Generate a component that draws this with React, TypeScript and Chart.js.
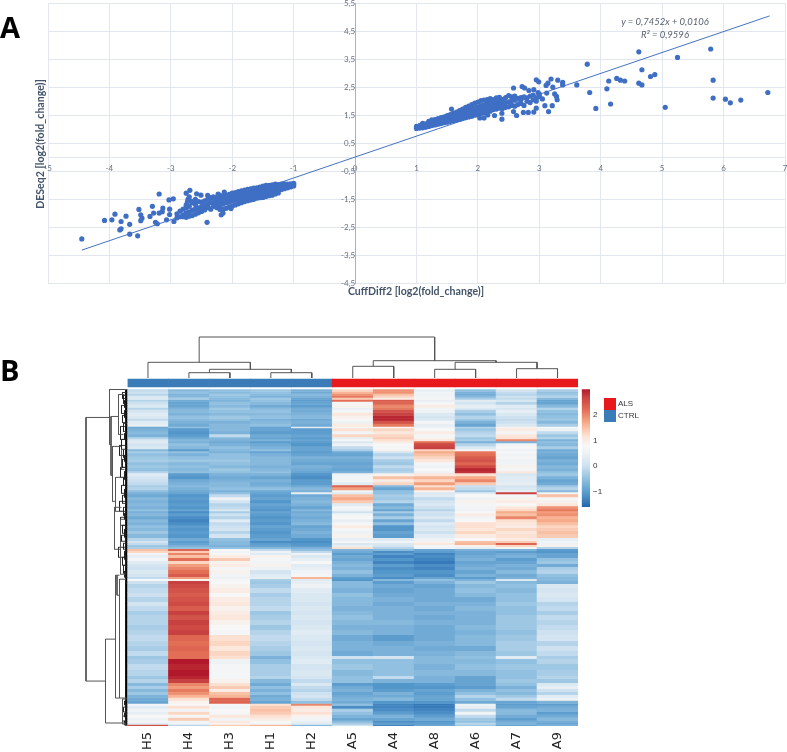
import React, { useEffect, useRef } from "react";
import { Chart, registerables } from "chart.js";

Chart.register(...registerables);

// ---------- Panel A ----------
const xTicksA = [-5, -4, -3, -2, -1, 0, 1, 2, 3, 4, 5, 6, 7];
const yTicksA = [-4.5, -3.5, -2.5, -1.5, -0.5, 0.5, 1.5, 2.5, 3.5, 4.5, 5.5];
const trendX = [-4.45, 6.75];
const trendY = [-3.31, 5.04];

const upOutliers = [
  [4.62,3.76],[5.79,3.86],[5.25,3.56],[3.78,3.32],[4.67,3.12],[4.88,2.95],[4.81,2.88],[5.83,2.75],[4.26,2.81],[4.32,2.75],[4.39,2.72],[4.13,2.72],[4.62,2.64],[4.67,2.58],[4.10,2.44],[3.82,2.31],[6.72,2.31],[5.83,2.11],[6.03,2.07],[6.28,2.04],[6.11,1.94],[4.16,1.90],[3.92,1.74],[5.05,1.78],[3.61,2.58],
  [2.95,2.76],[2.99,2.69],[3.19,2.79],[3.30,2.75],[3.38,2.67],[3.38,2.58],[3.14,2.64],[3.11,2.56],[3.22,2.50],[2.58,2.47],[2.72,2.52],[2.76,2.47],[2.83,2.38],[2.91,2.41],[2.98,2.31],[3.12,2.29],[3.25,2.26],[3.28,2.17],[3.29,2.05],[3.21,1.84],[3.09,1.84],[3.15,1.63],[2.95,1.75],[2.91,1.61],[2.82,1.60],[2.74,1.60],[2.63,1.49],[2.58,1.63],[2.39,1.36],[2.39,1.57],[2.27,1.49],[2.16,1.51],[2.03,1.40],[2.10,1.40],[1.57,1.72],
];
// dense band: one [x, [y values at that x]] per column of the cloud
const upBand: [number, number[]][] = [
  [1.00,[1.03,1.07,1.10]],[1.05,[1.04,1.08,1.13]],[1.10,[1.05,1.10,1.17,1.21]],[1.15,[1.07,1.13,1.19]],[1.20,[1.10,1.16,1.23,1.28]],[1.25,[1.13,1.19,1.26,1.33]],[1.30,[1.15,1.22,1.29,1.34]],[1.35,[1.18,1.25,1.33,1.38]],[1.40,[1.20,1.27,1.36,1.41]],[1.45,[1.23,1.30,1.38,1.44]],[1.50,[1.25,1.33,1.41,1.49]],[1.55,[1.28,1.37,1.45,1.52]],[1.60,[1.30,1.39,1.48,1.57]],[1.65,[1.33,1.43,1.52,1.61]],[1.70,[1.35,1.46,1.56,1.66]],[1.75,[1.38,1.49,1.60,1.72]],[1.80,[1.41,1.53,1.64,1.78]],[1.85,[1.44,1.56,1.68,1.82]],[1.90,[1.46,1.59,1.72,1.88]],[1.95,[1.50,1.62,1.76,1.93]],[2.00,[1.52,1.66,1.80,1.97]],[2.05,[1.56,1.69,1.84,2.02]],[2.10,[1.58,1.73,1.87,2.04]],[2.15,[1.62,1.76,1.91,2.06]],[2.20,[1.64,1.79,1.94,2.09]],[2.25,[1.70,1.82,1.98,2.06]],[2.30,[1.72,1.85,2.00,2.12]],[2.35,[1.75,1.88,2.03,2.14]],[2.40,[1.74,1.91,2.06]],[2.45,[1.78,1.95,2.13]],[2.50,[1.80,1.98,2.20]],[2.55,[1.85,2.02,2.15]],[2.60,[1.82,2.05,2.18]],[2.65,[1.88,2.10]],[2.70,[1.92,2.06,2.13]],[2.75,[1.85,2.15]],[2.80,[2.00,2.12]],[2.85,[1.95,2.18]],[2.90,[2.05,2.22]],[2.95,[2.00,2.10]],[3.00,[2.16,2.25]],[3.05,[2.08]],
];
const downOutliers = [
  [-4.45,-2.91],[-4.08,-2.25],[-3.96,-2.23],[-3.91,-2.03],[-3.81,-2.29],[-3.73,-2.10],[-3.81,-2.55],[-3.83,-2.59],[-3.67,-2.39],[-3.67,-2.74],[-3.54,-2.80],[-3.52,-1.86],[-3.49,-2.05],[-3.47,-2.17],[-3.49,-2.26],[-3.30,-1.75],[-3.34,-2.11],[-3.28,-1.99],[-3.25,-2.32],[-3.22,-2.37],[-3.19,-1.31],[-3.19,-1.99],[-3.13,-1.81],[-3.14,-1.94],[-3.02,-1.85],[-3.07,-2.23],[-3.03,-1.52],[-2.96,-1.48],[-2.95,-2.29],[-3.02,-2.04],
  [-2.75,-1.28],[-2.69,-1.18],[-2.58,-1.30],[-2.51,-1.35],[-2.70,-1.41],[-2.73,-1.59],[-2.67,-1.56],[-2.41,-2.32],[-2.40,-1.36],[-2.31,-1.41],[-2.23,-1.31],[-2.13,-1.24],[-2.02,-1.31],[-2.18,-2.05],[-2.15,-1.99],[-2.02,-1.83],[-2.72,-1.50],[-2.64,-1.62],[-2.60,-1.50],[-2.75,-1.70],
];
const downBand: [number, number[]][] = [
  [-1.00,[-.93,-.98,-1.02]],[-1.05,[-.95,-1.00,-1.06]],[-1.10,[-.96,-1.02,-1.09]],[-1.15,[-.95,-1.03,-1.12]],[-1.20,[-.96,-1.05,-1.15]],[-1.25,[-.97,-1.07,-1.18,-1.27]],[-1.30,[-.96,-1.08,-1.21,-1.31]],[-1.35,[-.98,-1.10,-1.23,-1.35]],[-1.40,[-1.00,-1.12,-1.25,-1.37]],[-1.45,[-1.00,-1.14,-1.28,-1.40]],[-1.50,[-1.03,-1.16,-1.30,-1.43]],[-1.55,[-1.06,-1.18,-1.32,-1.44]],[-1.60,[-1.09,-1.21,-1.34,-1.46]],[-1.65,[-1.10,-1.23,-1.36,-1.50]],[-1.70,[-1.13,-1.26,-1.39,-1.52]],[-1.75,[-1.14,-1.28,-1.42,-1.55]],[-1.80,[-1.17,-1.30,-1.45,-1.58]],[-1.85,[-1.20,-1.33,-1.47,-1.62]],[-1.90,[-1.22,-1.36,-1.50,-1.66]],[-1.95,[-1.26,-1.39,-1.53,-1.70]],[-2.00,[-1.28,-1.42,-1.56,-1.74]],[-2.05,[-1.32,-1.46,-1.60,-1.78]],[-2.10,[-1.35,-1.49,-1.63,-1.82]],[-2.15,[-1.38,-1.52,-1.66,-1.84]],[-2.20,[-1.36,-1.54,-1.69,-1.86]],[-2.25,[-1.42,-1.57,-1.72,-1.80]],[-2.30,[-1.45,-1.60,-1.75]],[-2.35,[-1.44,-1.62,-1.85]],[-2.40,[-1.50,-1.68,-1.80]],[-2.45,[-1.55,-1.72,-1.88]],[-2.50,[-1.60,-1.76,-1.93]],[-2.55,[-1.58,-1.80,-1.98]],[-2.60,[-1.68,-1.84,-2.03]],[-2.65,[-1.62,-1.88,-2.08]],[-2.70,[-1.75,-1.95,-2.10]],[-2.75,[-1.80,-1.98,-2.14]],[-2.80,[-1.85,-2.05,-2.12]],[-2.85,[-1.92,-2.12]],[-2.90,[-2.02,-2.16]],
];

// ---------- Panel B ----------
const samples = ["H5", "H4", "H3", "H1", "H2", "A5", "A4", "A8", "A6", "A7", "A9"];
const sampleGroups = ["CTRL", "CTRL", "CTRL", "CTRL", "CTRL", "ALS", "ALS", "ALS", "ALS", "ALS", "ALS"];
const groupColors: Record<string, string> = { ALS: "#e8191c", CTRL: "#3a7bb8" };
const colorbarTicks = [-1, 0, 1, 2];

// leaves 0..10 are samples; every merge creates the next node number, starting at 11
const columnMerges = [
  [1, 2, 5.3], [3, 4, 5.3], [11, 12, 8.7], [0, 13, 15.7],
  [5, 6, 11.7], [7, 8, 8.7], [9, 10, 9.3], [16, 17, 15.7], [15, 18, 17.3], [14, 19, 41],
];

const rowSpans = [
  2,2,2,2,2,2,3,3,2,3,3,3,2,3,3,1.5,3,3,3,2,2,2,3,3,2,2,3,3,3,3,3,3,2,3,3,3,3,2,3,2,2,3,3,3,3,3,2,2,3,3,3,3,3,3,3,4,3,2,2,2,2,2,2,2,3,3,3,3,3,4,3,2,2,3,4,5,4,5,4,5,4,5,5,5,5,6,5,5,5,3,5,6,6,3,4,3,3,3,3,3,3,3,2,3,3,3,3,3,2,2,1.5,
];
const heatRows = [
  [-.1,-.6,-.5,-.4,-.7,1.3,1.9,.4,-.5,.1,-.3],
  [0,-.5,-.6,-.5,-.8,1.6,1.9,.6,-.7,-.1,-.5],
  [-.2,-.7,-.4,-.6,-.6,1.9,1.5,.5,-.8,-.2,-.4],
  [.2,-.6,-.5,-.7,-.7,2.1,1.3,.6,-.6,0,-.2],
  [.3,-.3,-.6,-.4,-.9,1.4,1,.7,-.3,-.1,-.6],
  [-.2,-.8,-.7,-.5,-1,2.2,2.4,.4,.3,.2,-.9],
  [0,-.9,-.5,-.6,-.9,.7,2.3,.7,.1,-.2,-.9],
  [.2,-.9,-.6,-.8,-1,.9,2,1,.4,.3,-.6],
  [-.2,-.7,-.4,-.6,-.8,.4,2.1,.6,.2,.1,-.2],
  [.1,-.6,-.5,-.5,-.8,.7,2.5,.5,-.3,.4,-.5],
  [.3,-.7,-.6,-.6,-.7,1.1,2.7,.2,-.5,.2,-.6],
  [.2,-.5,-.4,-.5,-.6,.9,2.9,.1,-.2,0,-.5],
  [-.1,-.6,-.5,-.7,-.8,.8,2.9,.2,-.4,-.1,-.4],
  [.3,-.7,-.7,-.6,-.7,.5,2.5,.7,-.7,0,-.6],
  [.4,-.8,-.6,-.5,-.8,1,2.1,.4,-.9,.2,-.3],
  [-.8,-.5,-.6,-.9,.3,.7,.8,.5,-.2,.9,.7],
  [-.7,-1,-.6,-.9,-1,1.2,1.3,.8,-.4,1,.5],
  [-.6,-1.1,-.7,-1,-1,.6,1.1,1,-.2,.7,-.1],
  [-.7,-1,-.1,-.8,-.9,1.3,1.3,.7,-.1,1.1,-.4],
  [-.2,-.8,-.6,-.9,-1,.4,1.4,.9,-.4,1.2,-.2],
  [.2,-.6,-.7,-.7,-.9,.7,1.2,1.1,-.3,2,-.7],
  [.3,-.7,-.8,-1,-1,.2,1,2.2,-.7,-.7,-.5],
  [.1,-.5,-.7,-.8,-1.1,.5,.8,2.6,-.2,.6,-.6],
  [.2,-.6,-.5,-.7,-.9,-.1,.7,2.7,.2,.8,-.3],
  [-.6,-1,-.6,-.5,-.9,-.3,.9,1.3,.7,.5,-.8],
  [-.3,-.5,-.7,-.9,-1,-.8,.1,1.7,2.1,.8,-.7],
  [-.5,-.7,-.5,-.7,-.9,-.9,-.2,1.5,2.2,.6,-.8],
  [-.4,-.5,-.5,-.6,-.7,-.7,0,1.3,2.4,.7,-.9],
  [-.3,-.4,-.4,-.6,-.8,-.8,-.3,1.1,2.5,.5,-.7],
  [-.5,-.6,-.5,-.6,-.9,-.9,-.4,.7,2.3,.6,-.8],
  [-.4,-.5,-.6,-.7,-.7,-.8,-.1,.5,2.6,.9,-.6],
  [-.5,-.6,-.4,-.6,-.8,-.9,-.3,.8,2.9,.7,-.7],
  [-.2,-.5,-.5,-.5,-.9,-.7,-.2,.5,2.8,1.1,-.5],
  [.3,-1,-.7,-.7,-1.1,.5,.9,1.1,1.2,.2,-.4],
  [.1,-1.1,-.8,-.9,-1.2,.6,1.5,1.6,1.7,.3,-.7],
  [0,-.8,-.7,-.7,-1,.7,1,1.3,2,.3,-.9],
  [-.1,-.7,-.6,-.8,-1,.3,1.3,1.8,1.4,.4,-.8],
  [-.3,-.6,-.6,-.7,-.8,2.3,-.6,1.2,0,.1,-.4],
  [-.2,-.7,-.5,-.5,-.6,1.8,-.9,1.6,-.1,.2,-.2],
  [-.5,-.8,-.7,-.8,-.7,.6,-.5,.9,-.4,.4,-.6],
  [-.7,-.9,-.5,-.9,.4,.3,-.5,.2,.3,2.7,.6],
  [-.8,-1.1,-.1,-1,-.8,1.5,-.3,.3,.8,.7,1.5],
  [-.6,-1,.5,-.9,-.7,1.7,-.4,-.1,.5,.9,.7],
  [-.7,-1.1,.1,-1.1,-.6,1.4,-.2,.1,.9,1,.9],
  [-.6,-1,-.2,-.9,-.7,.3,-.8,.2,.7,.8,1.1],
  [-.7,-1.1,-.1,-1,-.9,.7,-.6,0,.6,1.1,1.9],
  [-.5,-.9,.2,-1.1,-.6,.5,-.9,-.2,.5,1.3,2.1],
  [-.7,-1.2,-.3,-.9,-.8,0,-.3,.1,.8,1.7,1.8],
  [-.6,-1,0,-1,-.7,.6,-.7,0,1,1.5,1.9],
  [-.8,-1.2,-.2,-1.1,-.8,.8,-.3,.2,.6,2,1.6],
  [-.6,-1.3,.3,-1,-.7,.4,-.9,-.1,.8,1.2,1.7],
  [-.7,-1.2,-.1,-1.1,-.6,.7,-.5,.3,1.2,1.1,1.5],
  [-.5,-1,0,-.9,-.9,1,-1.1,.1,1.2,1,1.3],
  [-.6,-1.1,.1,-1,-.8,.7,-1.1,.2,1.1,1.3,1.4],
  [-.4,-1,-.2,-1.1,-.7,.5,-.9,0,1.3,1.1,1.5],
  [-.6,-1.1,.1,-1,-.8,.9,-1,.3,1,1.2,1.4],
  [-.2,-.8,-.5,-.9,-1.1,.4,.3,.5,.8,1,.4],
  [.1,-1,-.6,-1.2,-1.2,.7,.6,.9,1.5,1.4,.6],
  [-.1,-.9,-.6,-1,-1.1,.2,.2,1.1,1.6,2.3,.5],
  [-.4,-.7,-.7,-.9,-1,.4,.1,.7,.9,1.3,.9],
  [-.3,-.5,-.5,-.6,-.7,1.2,-.2,.6,.4,.7,-.2],
  [1.5,2.3,.8,-.1,-.5,-.7,-.6,-.9,-.7,-.7,-1],
  [1.3,1.4,.6,.5,-.1,-.8,-1.2,-1,-.9,-1,-1.1],
  [.6,2,.8,.3,.5,-1,-1,-1.3,-.9,-.8,-.9],
  [.4,1.5,1,.9,.2,-.8,-1.3,-1.2,-.8,-.7,-.9],
  [.7,2.2,1.4,.7,.4,-.9,-1.1,-1.3,-.7,-1,-.5],
  [.3,1.3,.9,.6,.8,-.7,-1.3,-1.4,-.9,-.9,-.4],
  [.1,1.8,1,.9,.3,-.6,-1,-1.2,-.8,-.7,-.8],
  [0,2,.7,.5,.4,-.7,-1.2,-1.3,-.7,-.8,-.3],
  [.2,2.2,.9,.1,.6,-.5,-1.1,-1.1,-.9,-.6,-.2],
  [.1,2.4,.6,.3,.7,-.7,-1,-1.2,-.7,-.8,-.5],
  [-.1,1.8,.5,.4,1.6,-1,-1.2,-.9,-1,-.7,-.6],
  [.8,.9,.7,-.3,.3,-1.1,-.6,-.5,-.7,.2,-.6],
  [0,2.7,.8,-.4,.4,-.6,-1,-.7,-.4,-.6,-.7],
  [-.2,2.6,.9,-.3,.5,-.6,-.8,-.9,-.6,-.5,.2],
  [-.1,2.5,1,-.1,.3,-.7,-.9,-.8,-.5,-.6,.1],
  [0,2.4,.8,-.3,.2,-.5,-.8,-.8,-.6,-.5,.2],
  [-.2,2.5,1,-.2,.2,-.6,-.7,-.8,-.8,-.5,.1],
  [.1,2.6,1.1,-.2,.1,-.6,-.8,-.7,-.7,-.4,-.2],
  [-.1,2.4,.9,-.1,.2,-.7,-.7,-.8,-.6,-.5,-.1],
  [-.3,2.7,1,-.4,.1,-.6,-.7,-.7,-.7,-.5,-.3],
  [-.2,2.5,1.1,-.3,.2,-.5,-.7,-.8,-.7,-.4,-.1],
  [-.2,2.7,.9,-.2,.1,-.6,-.6,-.7,-.7,-.4,-.2],
  [-.3,2.6,.8,-.4,.2,-.7,-.7,-.8,-.6,-.4,-.1],
  [-.2,2.7,.7,-.2,.3,-.6,-.7,-.8,-.7,-.5,0],
  [-.1,2.3,1.2,-.1,.2,-.8,-1,-.8,-.6,-.4,.1],
  [-.2,2.2,1.3,-.2,.1,-.7,-.8,-.7,-.6,-.3,-.2],
  [-.3,2.3,1.1,-.3,.2,-.7,-.7,-.8,-.8,-.3,0],
  [-.1,2.2,1.3,-.4,.1,-.8,-.7,-.7,-.6,-.4,-.1],
  [-.4,2.2,1.2,-.7,.2,0,.1,-.6,-.5,.3,-.3],
  [-.3,3,.5,-.5,.3,-.5,-.5,-.6,-.6,-.5,-.2],
  [-.1,2.9,.7,-.3,.1,-.4,-.5,-.7,-.5,-.4,-.4],
  [-.2,3,.7,-.3,.2,-.6,-.5,-.6,-.6,-.5,-.3],
  [-.4,2.9,.7,-.2,.1,-.5,-.1,-.7,-.9,-.5,-.2],
  [-.2,2.7,.9,-.6,-.1,-.5,-.7,-.7,-.9,-.4,-.4],
  [-.6,2,1.2,-.8,.2,-1,-1.1,-1,-.9,-.5,.2],
  [-.3,1.8,1.4,-.5,-.1,-.8,-1.1,-1.1,-1,-.7,.4],
  [-.6,2.1,1,-.7,-.2,-.7,-1,-.9,-.7,-.5,0],
  [-.4,1.9,1.5,-.5,0,-.9,-.7,-1,-.5,-.6,-.2],
  [-.7,1.6,1.6,-.8,.1,-.8,-.8,-.9,-.2,-.4,.3],
  [-.8,1.2,2.3,-.7,-.1,-.7,-.6,-.9,-.5,-.1,.5],
  [-.9,.9,2.3,-.9,-.5,-.8,-1.1,-1.1,-.8,-.9,-.7],
  [.7,.8,.8,1.2,2,-.5,-1.3,-1.4,.5,-1,-1],
  [.3,1.2,.6,1.4,1.1,-1.2,-1.3,-1.4,.4,-.9,-.8],
  [.6,.6,.8,1.5,1,-.3,-1.2,-1.3,-.1,-.6,-.7],
  [.4,1.3,.7,1.4,1.2,-.5,-1,-1.2,.6,-.6,-1],
  [.8,.7,1.1,1.2,.9,-.7,-.7,-1,-.1,-.8,-.8],
  [.5,1.4,.6,1,.6,-.9,-.9,-.8,-.4,-1,-.6],
  [.7,.6,1.1,.8,.4,-.6,-1.2,-1.1,-.5,-.8,-.8],
  [.3,.5,.9,.6,.3,-.3,-1,-1,-.2,-.7,-.9],
  [2.6,-.2,1.4,1.6,-.6,0,-1.3,-.9,-.4,-.9,-.7],
];

// row dendrogram: [distance, top row position, bottom row position, child distance at top, child distance at bottom]
const rowBrackets = [
  [41.5,28,292,17,22],
  [18,0,55,0,16.5],
  [16.5,27,86,9,15],
  [9,5,45,3,4],
  [15,57,112,6,12],
  [12,88,122,4,5],
  [6,60,80,2,3],
  [22,250,334,12,2],
  [12,186,309,10.5,8],
  [10.5,186,206,8,8],
  [8,190,309,1.5,1],
  [5,310,335,1,1],
  [13,118,160,6,7],
  [7,130,185,3,2],
];
// small twigs next to the leaves: [distance, top, bottom]
const rowTwigs = [
  [5,3,9],[4,6,14],[3,11,18],[6,16,24],[3,21,28],[5,26,33],[2,30,36],[4,34,42],[7,37,50],[3,44,50],[6,50,60],[2,52,58],[8,56,66],[4,60,68],[3,66,72],[5,70,78],[2,74,80],[7,78,88],[3,82,90],[4,88,96],[2,92,98],[6,96,104],[3,100,108],[5,106,114],[2,110,116],[8,112,122],[4,118,126],[3,124,130],[7,128,136],[2,132,138],[5,136,144],[3,140,148],[6,146,152],[2,150,156],[4,154,160],[9,158,168],[3,162,170],[5,168,176],[2,172,178],[4,176,184],[3,182,188],[2,188,194],
  [3,312,316],[2,315,319],[4,318,323],[2,321,325],[3,324,328],[5,327,332],[2,330,334],[3,332,336],
];
const rowLeafEdge = [[1.2,0],[1.2,336.5]];

// ---------- colour scale of the heatmap ----------
const colorStops: [number, number[]][] = [
  [-1.6,[33,102,172]],[-1.2,[75,142,198]],[-1,[92,157,206]],[-.5,[145,192,224]],[0,[205,225,240]],[.5,[238,242,245]],[.8,[247,247,247]],
  [1.2,[252,225,210]],[1.7,[246,170,135]],[2.2,[226,110,85]],[2.7,[200,65,65]],[3,[178,24,43]],
];
function heatColor(v: number): string {
  for (let i = 1; i < colorStops.length; i++) {
    const [b, cb] = colorStops[i];
    const [a, ca] = colorStops[i - 1];
    if (v <= b) {
      const t = Math.max(0, (v - a) / (b - a));
      return `rgb(${ca.map((c, k) => Math.round(c + (cb[k] - c) * t)).join(",")})`;
    }
  }
  return "rgb(178,24,43)";
}

const GRID = "#e2e6ef";
const BLUE = "#3f6fc4";
const INK = "#44546a";
const comma = (v: number) => String(v).replace(".", ",");
const noPad = (s: any) => { s.paddingTop = 0; s.paddingBottom = 0; s.paddingLeft = 0; s.paddingRight = 0; };

function makeScatter(canvas: HTMLCanvasElement) {
  const toPts = (l: number[][]) => l.map(([x, y]) => ({ x, y }));
  const columns = (l: [number, number[]][]) => l.flatMap(([x, ys]) => ys.map((y) => ({ x, y })));
  const dots = { backgroundColor: BLUE, borderColor: BLUE, pointRadius: 2.6, pointBorderWidth: 0 };
  return new Chart(canvas, {
    type: "scatter",
    data: {
      datasets: [
        { data: toPts(upOutliers), ...dots },
        { data: columns(upBand), ...dots },
        { data: toPts(downOutliers), ...dots },
        { data: columns(downBand), ...dots },
        { data: trendX.map((x, i) => ({ x, y: trendY[i] })), showLine: true, borderColor: "#4472c4", borderWidth: 1, pointRadius: 0 },
      ],
    },
    options: {
      responsive: false,
      animation: false,
      layout: { autoPadding: false, padding: { left: 48, right: 2, top: 3, bottom: 26.5 } },
      plugins: { legend: { display: false }, tooltip: { enabled: false } },
      scales: {
        x: {
          type: "linear", min: -5, max: 7, position: { y: 0 } as any,
          afterBuildTicks: (s: any) => { s.ticks = xTicksA.map((value) => ({ value })); },
          afterFit: noPad,
          grid: { color: GRID, lineWidth: 1, drawTicks: false },
          border: { color: GRID, width: 1 },
          ticks: { color: "#66707f", font: { family: "Lato", size: 8 }, padding: 6, maxRotation: 0, callback: (v: any) => String(v) },
        },
        y: {
          type: "linear", min: -4.5, max: 5.5, position: { x: 0 } as any,
          afterBuildTicks: (s: any) => { s.ticks = yTicksA.map((value) => ({ value })); },
          afterFit: noPad,
          grid: { color: GRID, lineWidth: 1, drawTicks: false },
          border: { color: "#a9b2c3", width: 1 },
          ticks: { color: "#66707f", font: { family: "Lato", size: 8 }, padding: 3, callback: (v: any) => comma(v) },
        },
      },
    } as any,
  });
}

function makeHeatmap(canvas: HTMLCanvasElement) {
  const total = rowSpans.reduce((a, b) => a + b, 0);
  const yMin = (-total * 54.5) / 336.5;
  const nodes: { x: number; h: number }[] = samples.map((_, i) => ({ x: i, h: 0 }));
  const dendroLine: any[] = [];
  columnMerges.forEach(([a, b, h]) => {
    const A = nodes[a];
    const B = nodes[b];
    dendroLine.push({ x: A.x, y: A.h }, { x: A.x, y: h }, { x: B.x, y: h }, { x: B.x, y: B.h }, { x: NaN, y: NaN });
    nodes.push({ x: (A.x + B.x) / 2, h });
  });
  const barBase = { type: "bar", stack: "s", xAxisID: "x", yAxisID: "y", borderWidth: 0, barPercentage: 1, categoryPercentage: 1, grouped: false };
  const heatSets: any[] = heatRows.map((row, i) => ({ ...barBase, data: row.map(() => rowSpans[i]), backgroundColor: row.map(heatColor) }));
  const annotationSets: any[] = [
    { ...barBase, data: samples.map(() => -2.5), backgroundColor: "rgba(0,0,0,0)", inflateAmount: 0 },
    { ...barBase, data: samples.map(() => -8), backgroundColor: sampleGroups.map((g) => groupColors[g]) },
  ];
  return new Chart(canvas, {
    type: "bar",
    data: {
      labels: samples,
      datasets: [
        { type: "scatter", data: dendroLine, xAxisID: "xd", yAxisID: "yd", showLine: true, spanGaps: false, borderColor: "#555", borderWidth: 1, pointRadius: 0 } as any,
        ...annotationSets,
        ...heatSets,
      ],
    },
    options: {
      responsive: false,
      animation: false,
      layout: { autoPadding: false, padding: { left: 27.5, right: 22, top: 5, bottom: 0 } },
      plugins: { legend: { display: false }, tooltip: { enabled: false } },
      scales: {
        x: {
          type: "category", stacked: true,
          afterFit: (s: any) => { s.height = 26; noPad(s); },
          grid: { display: false, drawTicks: false }, border: { display: false },
          ticks: { color: "#222", font: { family: "DejaVu Sans", size: 13 }, minRotation: 90, maxRotation: 90, padding: 6, autoSkip: false },
        },
        y: { type: "linear", stacked: true, reverse: true, min: yMin, max: total, display: false },
        xd: { type: "linear", min: -0.5, max: samples.length - 0.5, display: false, offset: false },
        yd: { type: "linear", min: -348, max: 43, display: false },
      },
    } as any,
  });
}

function makeRowDendrogram(canvas: HTMLCanvasElement) {
  const pts = (list: number[][]) => {
    const out: any[] = [];
    list.forEach(([d, top, bot, cTop = 0, cBot = 0]) => {
      out.push({ x: cTop, y: top }, { x: d, y: top }, { x: d, y: bot }, { x: cBot, y: bot }, { x: NaN, y: NaN });
    });
    return out;
  };
  return new Chart(canvas, {
    type: "scatter",
    data: {
      datasets: [
        { data: pts(rowBrackets), showLine: true, spanGaps: false, borderColor: "#555", borderWidth: 1, pointRadius: 0, clip: false },
        { data: pts(rowTwigs), showLine: true, spanGaps: false, borderColor: "#222", borderWidth: 0.9, pointRadius: 0, clip: false },
        { data: rowLeafEdge.map(([x, y]) => ({ x, y })), showLine: true, borderColor: "#000", borderWidth: 2.4, pointRadius: 0, clip: false },
      ],
    } as any,
    options: {
      responsive: false,
      animation: false,
      layout: { autoPadding: false, padding: { left: 0, right: 0.5, top: 9.5, bottom: 6 } },
      plugins: { legend: { display: false }, tooltip: { enabled: false } },
      scales: {
        x: { type: "linear", reverse: true, min: 0, max: 47.5, display: false },
        y: { type: "linear", reverse: true, min: 0, max: rowSpans.reduce((a, b) => a + b, 0), display: false },
      },
    } as any,
  });
}

function makeColorbar(canvas: HTMLCanvasElement) {
  const fill = (ctx: any) => {
    const { chart } = ctx;
    const area = chart.chartArea;
    if (!area) return "#999";
    const scale = chart.scales.y;
    const g = chart.ctx.createLinearGradient(0, scale.getPixelForValue(-1.6), 0, scale.getPixelForValue(3));
    colorStops.forEach(([v]) => g.addColorStop((v + 1.6) / 4.6, heatColor(v)));
    return g;
  };
  return new Chart(canvas, {
    type: "bar",
    data: { labels: ["scale"], datasets: [{ data: [[-1.6, 3]], backgroundColor: fill, borderWidth: 0, barPercentage: 1, categoryPercentage: 1, grouped: false }] } as any,
    options: {
      responsive: false,
      animation: false,
      layout: { autoPadding: false, padding: { left: 6.7, right: 12, top: 9.3, bottom: 8 } },
      plugins: { legend: { display: false }, tooltip: { enabled: false } },
      scales: {
        x: { display: false },
        y: {
          type: "linear", position: "right", min: -1.6, max: 3,
          afterBuildTicks: (s: any) => { s.ticks = colorbarTicks.map((value) => ({ value })); },
          afterFit: (s: any) => { s.width = 13; noPad(s); },
          grid: { display: false, drawTicks: false }, border: { display: false },
          ticks: { color: "#333", font: { family: "Liberation Sans", size: 8 }, padding: 3, callback: (v: any) => (v < 0 ? "\u2212" + Math.abs(v) : String(v)) },
        },
      },
    } as any,
  });
}

const abs = (left: number, top: number, extra: React.CSSProperties = {}): React.CSSProperties => ({ position: "absolute", left, top, whiteSpace: "nowrap", ...extra });

export default function App() {
  const aRef = useRef<HTMLCanvasElement>(null);
  const heatRef = useRef<HTMLCanvasElement>(null);
  const rowRef = useRef<HTMLCanvasElement>(null);
  const barRef = useRef<HTMLCanvasElement>(null);
  useEffect(() => {
    const charts = [makeScatter(aRef.current!), makeHeatmap(heatRef.current!), makeRowDendrogram(rowRef.current!), makeColorbar(barRef.current!)];
    return () => charts.forEach((c) => c.destroy());
  }, []);
  const panelFont = { fontFamily: "'Open Sans'", fontWeight: 700, fontSize: 29, lineHeight: "30px", color: "#000" };
  const axisFont = { fontFamily: "Lato", fontWeight: 700, fontSize: 10.6, lineHeight: "12px", color: INK };
  const eqFont = { fontFamily: "Lato", fontStyle: "italic", fontSize: 9.5, lineHeight: "12px", color: "#5a6270" };
  const legendFont = { fontFamily: "'Liberation Sans'", fontSize: 8, lineHeight: "10px", color: "#333" };
  return (
    <div style={{ position: "absolute", left: 0, top: 0, width: 787, height: 752, background: "#fff", overflow: "hidden" }}>
      <canvas ref={aRef} width={787} height={310} style={abs(0, 0, { display: "block" })} />
      <canvas ref={rowRef} width={48} height={352} style={abs(80, 380, { display: "block" })} />
      <canvas ref={heatRef} width={500} height={422} style={abs(100, 330, { display: "block" })} />
      <canvas ref={barRef} width={40} height={135} style={abs(575, 380, { display: "block" })} />
      <div style={abs(0, 12, panelFont)}>A</div>
      <div style={abs(0, 355, panelFont)}>B</div>
      <div style={abs(416, 291, { ...axisFont, transform: "translate(-50%,-50%)" })}>CuffDiff2 [log2(fold_change)]</div>
      <div style={abs(40, 144, { ...axisFont, transform: "translate(-50%,-50%) rotate(-90deg)" })}>DESeq2 [log2(fold_change)]</div>
      <div style={abs(665, 22, { ...eqFont, transform: "translate(-50%,-50%)" })}>y = 0,7452x + 0,0106</div>
      <div style={abs(665, 35, { ...eqFont, transform: "translate(-50%,-50%)" })}>R² = 0,9596</div>
      <div style={abs(604, 398, { width: 11.5, height: 11.5, background: groupColors.ALS })} />
      <div style={abs(604, 409.5, { width: 11.5, height: 12, background: groupColors.CTRL })} />
      <div style={abs(618, 399, legendFont)}>ALS</div>
      <div style={abs(618, 410.5, legendFont)}>CTRL</div>
    </div>
  );
}
